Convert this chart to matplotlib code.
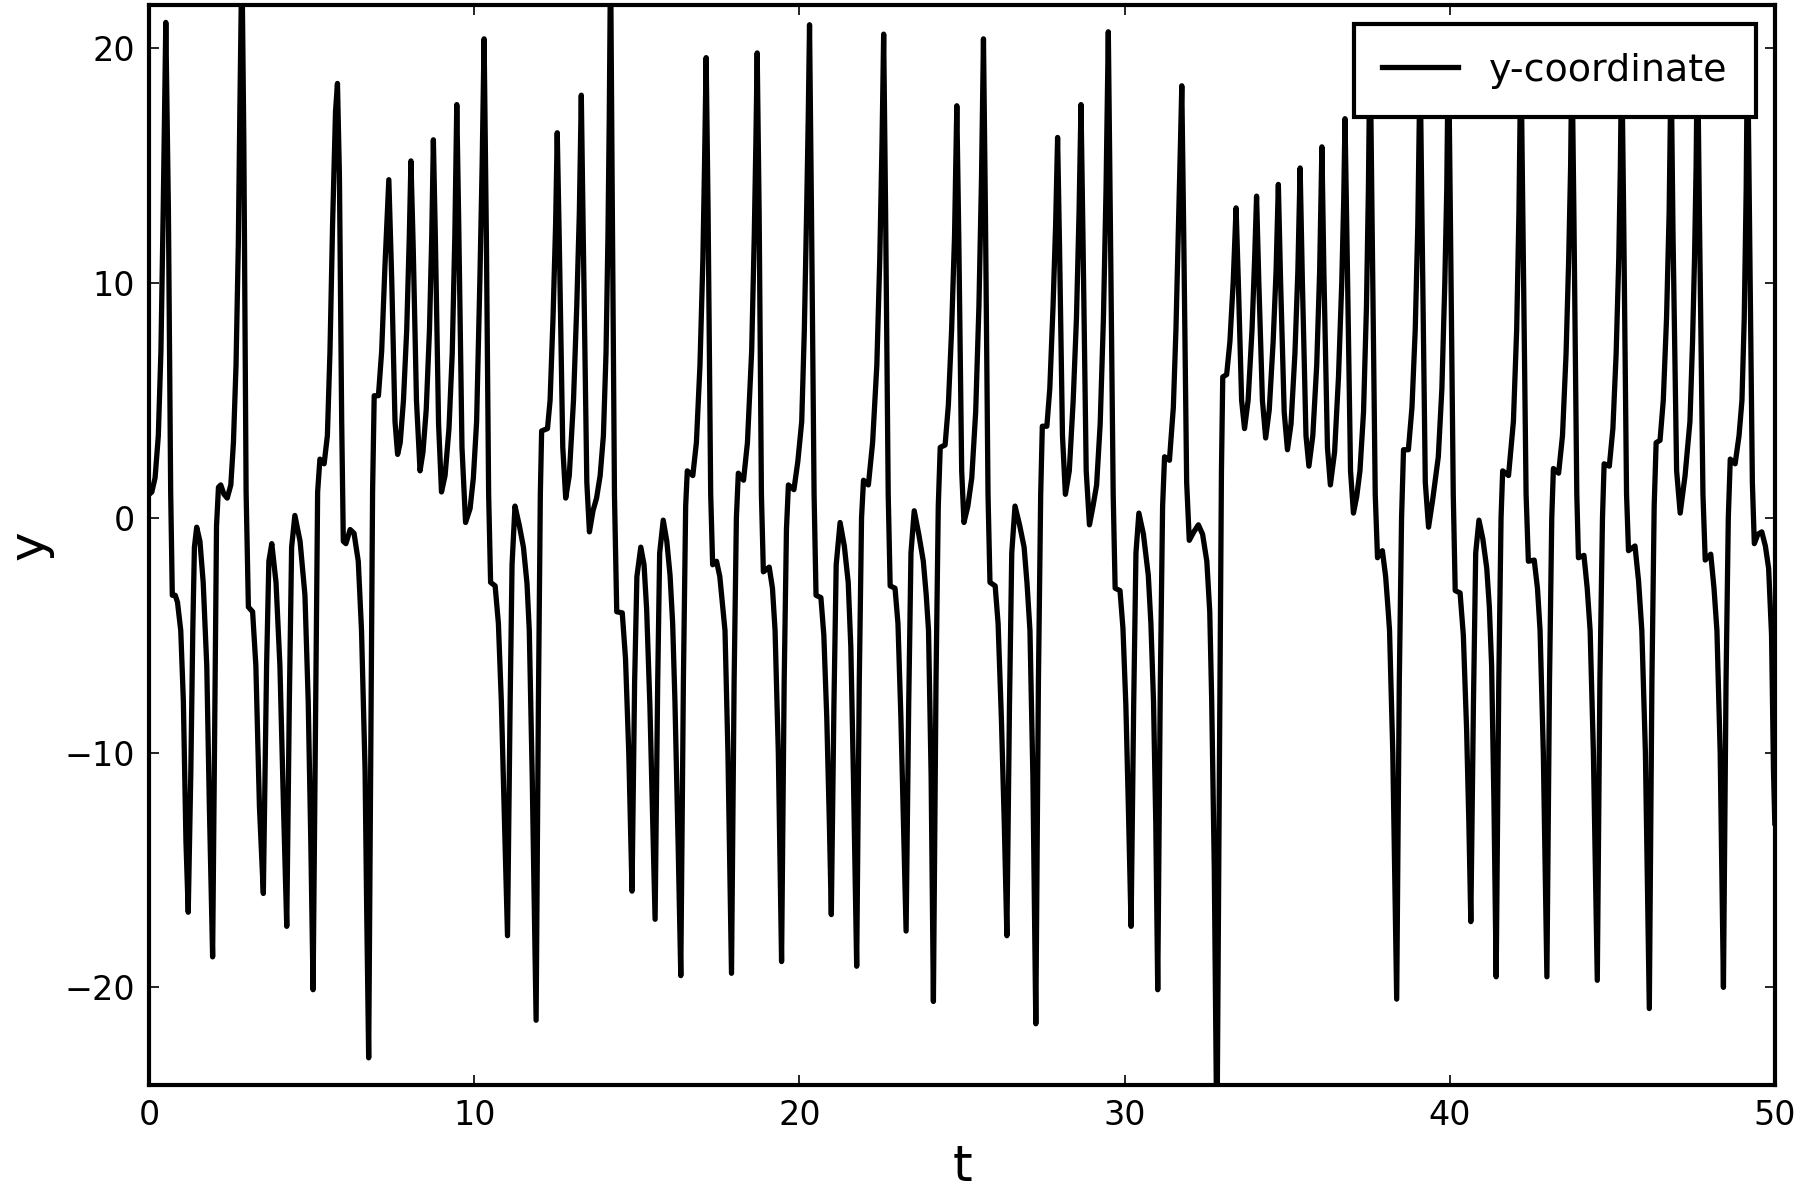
import numpy as np
import matplotlib
matplotlib.use("Agg")
import matplotlib.pyplot as plt

# points, ten per line (t first, y below)
t_pts = [
    0.00, 0.08, 0.18, 0.28, 0.36, 0.43, 0.51, 0.59, 0.66, 0.71,
    0.80, 0.87, 0.97, 1.05, 1.13, 1.20, 1.28, 1.34, 1.39, 1.46,
    1.56, 1.66, 1.77, 1.85, 1.95, 2.02, 2.07, 2.13, 2.20, 2.30,
    2.40, 2.51, 2.59, 2.67, 2.74, 2.79, 2.85, 2.91, 2.98, 3.05,
    3.18, 3.28, 3.39, 3.51, 3.61, 3.68, 3.77, 3.90, 4.02, 4.13,
    4.23, 4.31, 4.38, 4.48, 4.64, 4.79, 4.89, 4.97, 5.04, 5.12,
    5.18, 5.25, 5.38, 5.48, 5.56, 5.64, 5.73, 5.79, 5.85, 5.92,
    5.97, 6.05, 6.18, 6.30, 6.43, 6.53, 6.64, 6.69, 6.75, 6.81,
    6.87, 6.92, 7.05, 7.15, 7.25, 7.37, 7.46, 7.56, 7.64, 7.72,
    7.82, 7.92, 8.00, 8.05, 8.12, 8.22, 8.33, 8.42, 8.52, 8.62,
    8.69, 8.74, 8.80, 8.90, 8.99, 9.10, 9.22, 9.32, 9.40, 9.46,
    9.52, 9.62, 9.73, 9.87, 9.97, 10.07, 10.17, 10.24, 10.30, 10.37,
    10.44, 10.50, 10.64, 10.74, 10.83, 10.93, 11.02, 11.10, 11.16, 11.25,
    11.38, 11.51, 11.62, 11.69, 11.78, 11.90, 11.97, 12.03, 12.07, 12.25,
    12.33, 12.42, 12.50, 12.55, 12.61, 12.72, 12.81, 12.92, 13.05, 13.15,
    13.23, 13.29, 13.35, 13.46, 13.54, 13.65, 13.76, 13.87, 13.97, 14.05,
    14.11, 14.15, 14.19, 14.24, 14.31, 14.38, 14.55, 14.65, 14.75, 14.85,
    14.93, 15.00, 15.12, 15.22, 15.30, 15.40, 15.48, 15.56, 15.64, 15.70,
    15.81, 15.92, 16.02, 16.10, 16.17, 16.27, 16.35, 16.43, 16.50, 16.55,
    16.72, 16.83, 16.94, 17.03, 17.08, 17.13, 17.19, 17.27, 17.33, 17.45,
    17.55, 17.64, 17.71, 17.80, 17.91, 17.99, 18.06, 18.12, 18.28, 18.40,
    18.53, 18.61, 18.66, 18.70, 18.76, 18.83, 18.89, 19.07, 19.17, 19.25,
    19.35, 19.45, 19.53, 19.60, 19.66, 19.83, 19.95, 20.07, 20.15, 20.22,
    20.27, 20.31, 20.37, 20.45, 20.51, 20.66, 20.75, 20.84, 20.92, 20.98,
    21.06, 21.13, 21.25, 21.38, 21.50, 21.58, 21.66, 21.76, 21.84, 21.91,
    21.97, 22.12, 22.25, 22.38, 22.47, 22.54, 22.59, 22.65, 22.73, 22.79,
    22.94, 23.03, 23.12, 23.20, 23.28, 23.36, 23.43, 23.53, 23.67, 23.81,
    23.90, 23.97, 24.05, 24.12, 24.20, 24.27, 24.33, 24.48, 24.58, 24.68,
    24.77, 24.84, 24.90, 24.99, 25.06, 25.18, 25.30, 25.42, 25.52, 25.60,
    25.66, 25.72, 25.80, 25.86, 26.02, 26.11, 26.21, 26.30, 26.38, 26.46,
    26.53, 26.63, 26.77, 26.91, 27.00, 27.09, 27.18, 27.27, 27.35, 27.42,
    27.47, 27.61, 27.70, 27.80, 27.88, 27.94, 28.00, 28.09, 28.18, 28.30,
    28.42, 28.52, 28.60, 28.66, 28.72, 28.82, 28.92, 29.03, 29.14, 29.25,
    29.35, 29.43, 29.50, 29.56, 29.65, 29.71, 29.86, 29.95, 30.04, 30.12,
    30.20, 30.28, 30.35, 30.44, 30.58, 30.73, 30.81, 30.89, 30.96, 31.02,
    31.10, 31.17, 31.23, 31.38, 31.50, 31.58, 31.66, 31.72, 31.76, 31.82,
    31.91, 31.99, 32.13, 32.27, 32.40, 32.53, 32.62, 32.68, 32.76, 32.84,
    32.92, 32.98, 33.02, 33.14, 33.24, 33.34, 33.43, 33.50, 33.60, 33.69,
    33.80, 33.92, 34.00, 34.06, 34.13, 34.24, 34.34, 34.45, 34.57, 34.66,
    34.73, 34.80, 34.91, 35.01, 35.12, 35.24, 35.33, 35.40, 35.47, 35.58,
    35.67, 35.79, 35.91, 36.00, 36.07, 36.13, 36.24, 36.33, 36.46, 36.58,
    36.68, 36.74, 36.78, 36.85, 36.95, 37.04, 37.14, 37.24, 37.35, 37.44,
    37.50, 37.55, 37.61, 37.71, 37.78, 37.93, 38.03, 38.10, 38.15, 38.25,
    38.37, 38.45, 38.52, 38.58, 38.73, 38.84, 38.94, 39.02, 39.09, 39.15,
    39.25, 39.35, 39.48, 39.65, 39.76, 39.85, 39.91, 39.96, 40.02, 40.11,
    40.17, 40.32, 40.42, 40.52, 40.59, 40.65, 40.73, 40.80, 40.90, 41.02,
    41.14, 41.22, 41.29, 41.36, 41.43, 41.51, 41.58, 41.63, 41.81, 41.96,
    42.06, 42.13, 42.19, 42.25, 42.35, 42.42, 42.60, 42.70, 42.78, 42.88,
    42.99, 43.07, 43.14, 43.19, 43.35, 43.47, 43.58, 43.66, 43.72, 43.76,
    43.82, 43.91, 43.96, 44.13, 44.23, 44.32, 44.42, 44.54, 44.62, 44.70,
    44.75, 44.91, 45.02, 45.12, 45.20, 45.25, 45.29, 45.35, 45.44, 45.50,
    45.70, 45.81, 45.91, 46.02, 46.14, 46.22, 46.29, 46.35, 46.47, 46.57,
    46.67, 46.75, 46.81, 46.87, 46.98, 47.09, 47.24, 47.39, 47.47, 47.53,
    47.58, 47.62, 47.68, 47.79, 47.86, 48.03, 48.13, 48.22, 48.32, 48.42,
    48.50, 48.57, 48.63, 48.78, 48.90, 48.99, 49.06, 49.12, 49.16, 49.22,
    49.31, 49.37, 49.48, 49.60, 49.71, 49.81, 49.90, 49.96, 50.00,
]
y_pts = [
    1.0, 1.1, 1.7, 3.5, 7.1, 13.1, 21.1, 13.1, 1.1, -3.3,
    -3.3, -3.6, -4.8, -7.8, -13.8, -16.8, -10.8, -4.8, -1.25, -0.4,
    -1.0, -2.75, -6.3, -12.3, -18.7, -7.8, -0.35, 1.3, 1.4, 1.0,
    0.84, 1.4, 3.2, 6.5, 11.6, 17.6, 24.0, 16.0, 1.1, -3.8,
    -4.0, -6.3, -12.3, -16.0, -6.3, -1.85, -1.1, -2.75, -6.3, -12.3,
    -17.4, -7.8, -1.25, 0.1, -1.0, -3.3, -7.8, -13.8, -20.1, -7.8,
    1.1, 2.5, 2.3, 3.5, 7.1, 12.5, 17.3, 18.5, 14.6, 4.1,
    -1.0, -1.1, -0.5, -0.66, -1.85, -4.8, -10.8, -16.8, -23.0, -10.8,
    1.1, 5.2, 5.2, 7.1, 10.7, 14.4, 10.1, 4.1, 2.7, 3.2,
    5.0, 8.0, 12.0, 15.2, 11.5, 5.0, 2.0, 2.8, 4.6, 8.0,
    12.0, 16.1, 12.0, 4.0, 1.1, 1.8, 3.8, 7.0, 12.0, 17.6,
    12.5, 3.0, -0.2, 0.4, 1.7, 4.1, 10.1, 15.0, 20.4, 12.0,
    1.0, -2.75, -2.9, -4.5, -7.8, -13.0, -17.8, -8.0, -2.0, 0.5,
    -0.3, -1.25, -2.8, -4.8, -11.0, -21.4, -8.0, 1.0, 3.7, 3.8,
    5.0, 8.5, 12.5, 16.4, 12.0, 3.0, 0.84, 1.8, 5.0, 9.0,
    13.0, 18.0, 12.0, 1.5, -0.6, 0.3, 0.84, 1.8, 3.5, 7.0,
    12.0, 17.0, 24.0, 14.0, 1.0, -4.0, -4.05, -6.0, -10.0, -15.9,
    -7.0, -2.5, -1.25, -2.0, -3.9, -8.0, -12.5, -17.1, -7.0, -1.5,
    -0.1, -1.0, -2.45, -4.5, -7.8, -14.0, -19.5, -7.0, 0.5, 2.0,
    1.8, 3.2, 6.5, 11.0, 15.0, 19.6, 13.0, 1.0, -2.0, -1.85,
    -2.5, -3.8, -4.8, -10.0, -19.4, -7.0, 0.0, 1.9, 1.6, 3.2,
    7.1, 12.0, 16.0, 19.8, 13.0, 1.0, -2.3, -2.1, -3.0, -4.8,
    -10.0, -18.9, -7.0, -0.5, 1.4, 1.2, 2.4, 4.1, 8.0, 13.0,
    17.0, 21.0, 13.0, 1.0, -3.3, -3.4, -5.0, -8.5, -13.0, -16.9,
    -8.0, -2.0, -0.2, -1.2, -2.75, -5.5, -11.0, -19.1, -7.0, 0.0,
    1.6, 1.4, 3.2, 6.5, 11.0, 16.0, 20.6, 13.0, 1.0, -2.9,
    -3.0, -4.5, -8.5, -13.0, -17.6, -8.0, -1.5, 0.3, -0.7, -1.85,
    -3.3, -4.8, -11.0, -20.6, -7.0, 0.5, 3.0, 3.1, 4.8, 8.0,
    12.0, 17.55, 12.0, 2.0, -0.2, 0.5, 1.7, 4.5, 9.0, 14.5,
    20.4, 13.0, 1.0, -2.75, -2.9, -4.5, -8.5, -13.0, -17.8, -8.0,
    -1.5, 0.5, -0.3, -1.25, -2.8, -4.8, -11.0, -21.55, -7.0, 1.0,
    3.9, 3.9, 5.5, 9.0, 12.5, 16.2, 11.5, 3.5, 1.0, 2.0,
    5.0, 8.5, 13.0, 17.6, 12.0, 2.0, -0.3, 0.5, 1.4, 4.0,
    8.5, 14.0, 20.7, 13.0, 1.0, -3.0, -3.1, -4.7, -8.0, -12.5,
    -17.4, -8.0, -1.5, 0.2, -0.7, -2.45, -4.5, -7.8, -13.0, -20.1,
    -7.0, 0.5, 2.6, 2.45, 4.7, 8.0, 12.5, 16.0, 18.4, 12.0,
    1.5, -0.96, -0.6, -0.3, -0.7, -1.85, -4.0, -7.8, -15.0, -27.0,
    -10.0, 2.0, 6.0, 6.1, 7.5, 10.0, 13.2, 10.0, 5.0, 3.8,
    5.0, 8.0, 11.0, 13.7, 10.0, 5.0, 3.4, 4.6, 7.5, 10.5,
    14.2, 10.0, 4.5, 2.9, 4.0, 7.0, 10.5, 14.9, 10.0, 3.5,
    2.2, 3.5, 6.5, 10.5, 15.8, 10.5, 3.0, 1.4, 2.8, 6.0,
    10.0, 13.5, 17.0, 11.0, 2.0, 0.2, 0.9, 2.0, 4.5, 9.0,
    14.0, 20.5, 13.0, 1.0, -1.7, -1.4, -2.5, -3.8, -4.8, -10.0,
    -20.5, -7.0, 0.0, 2.9, 2.9, 4.7, 8.0, 12.5, 19.5, 12.5,
    1.5, -0.4, 0.8, 2.6, 5.5, 10.0, 14.0, 20.5, 13.0, 1.0,
    -3.1, -3.2, -5.0, -9.0, -13.0, -17.2, -8.0, -1.5, -0.1, -0.9,
    -2.15, -3.8, -6.3, -12.0, -19.55, -7.0, 0.0, 2.0, 1.8, 4.1,
    8.0, 13.0, 20.0, 13.0, 1.0, -1.85, -1.8, -3.0, -4.8, -10.0,
    -19.55, -7.0, 0.0, 2.1, 1.9, 3.5, 7.0, 11.0, 15.0, 20.0,
    13.0, 1.0, -1.7, -1.6, -3.0, -4.8, -10.0, -19.7, -7.0, 0.0,
    2.3, 2.2, 3.8, 7.0, 11.0, 15.0, 20.0, 13.0, 1.0, -1.4,
    -1.2, -2.7, -4.8, -10.0, -20.9, -7.0, 0.5, 3.2, 3.3, 5.0,
    8.5, 13.0, 19.5, 12.0, 2.0, 0.2, 1.8, 4.1, 7.5, 11.0,
    15.0, 20.5, 13.0, 1.0, -1.8, -1.55, -3.0, -4.8, -10.0, -20.0,
    -7.0, 0.0, 2.5, 2.3, 3.5, 5.0, 8.5, 14.0, 20.5, 13.0,
    1.5, -1.1, -0.7, -0.6, -1.2, -2.15, -5.0, -10.8, -13.0,
]
assert len(t_pts) == len(y_pts)

x_ticks = [0, 10, 20, 30, 40, 50]
y_ticks = [-20, -10, 0, 10, 20]

fig = plt.figure(figsize=(9, 6), dpi=200)
ax = fig.add_axes([0.0829, 0.0958, 0.9031, 0.9000])

ax.plot(t_pts, y_pts, color='black', linewidth=1.9, solid_joinstyle='round',
        label='y-coordinate')

ax.set_xlim(0, 50)
ax.set_ylim(-24.16, 21.84)
ax.set_xticks(x_ticks)
ax.set_yticks(y_ticks)
ax.tick_params(direction='in', top=True, right=True, labelsize=12,
               length=3.5, width=0.6, pad=5)
for s in ax.spines.values():
    s.set_linewidth(1.5)

ax.set_xlabel('t', fontsize=18)
ax.set_ylabel('y', fontsize=18)

leg = ax.legend(loc='upper right', fontsize=13.7, fancybox=False, framealpha=1,
                edgecolor='black', borderpad=0.75, borderaxespad=0.5)
leg.get_frame().set_linewidth(1.5)

fig.savefig('out.png', dpi=200)
